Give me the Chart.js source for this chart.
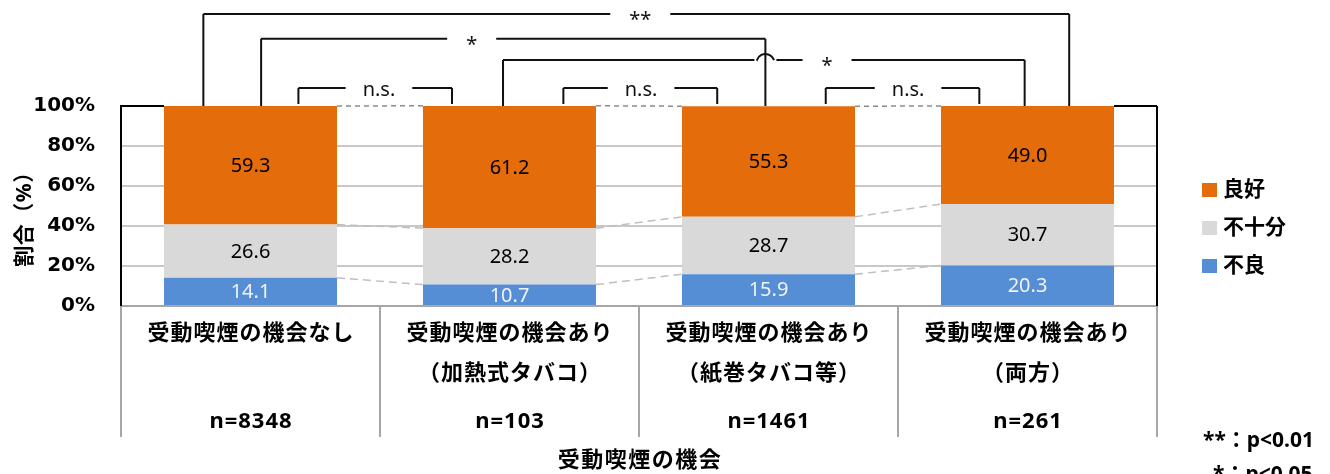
<!DOCTYPE html>
<html><head><meta charset="utf-8">
<script src="https://cdn.jsdelivr.net/npm/chart.js@4/dist/chart.umd.min.js"></script>
<style>html,body{margin:0;padding:0;background:#fff;overflow:hidden}</style>
</head><body>
<canvas id="c" width="1330" height="474"></canvas>
<script>
// ---- data ----
const categories = [
  ['受動喫煙の機会なし'],
  ['受動喫煙の機会あり', '（加熱式タバコ）'],
  ['受動喫煙の機会あり', '（紙巻タバコ等）'],
  ['受動喫煙の機会あり', '（両方）']
];
const sampleSizes = ['n=8348', 'n=103', 'n=1461', 'n=261'];
const seriesNames = ['不良', '不十分', '良好'];
const poor = [14.1, 10.7, 15.9, 20.3];
const insufficient = [26.6, 28.2, 28.7, 30.7];
const good = [59.3, 61.2, 55.3, 49.0];
const yTicks = [0, 20, 40, 60, 80, 100];
const yAxisTitle = '割合（%）';
const xAxisTitle = '受動喫煙の機会';
const footnotes = ['**：p<0.01', '*：p<0.05'];
// significance brackets: from/to/at in category-index units, level in % units of the y scale
const brackets = [
  {from: -0.182, to: 3.161, level: 146,   label: '**',   at: 1.505},
  {from: 0.041,  to: 1.988, level: 133.6, label: '*',    at: 0.854},
  {from: 0.975,  to: 2.989, level: 123,   label: '*',    at: 2.226},
  {from: 0.185,  to: 0.778, level: 109,   label: 'n.s.', at: 0.496, short: true},
  {from: 1.208,  to: 1.802, level: 109,   label: 'n.s.', at: 1.508, short: true},
  {from: 2.221,  to: 2.814, level: 109,   label: 'n.s.', at: 2.539, short: true}
];

// ---- styles ----
const COLORS = ['#558ED5', '#D9D9D9', '#E46C0A'];
const FONT = "'Noto Sans', 'Noto Sans CJK JP', sans-serif";

const overlay = {
  id: 'overlay',
  afterDatasetsDraw(chart) {
    const ctx = chart.ctx, ys = chart.scales.y, a = chart.chartArea;
    const metas = [0, 1, 2].map(i => chart.getDatasetMeta(i));
    ctx.save();
    // series connector lines
    metas.forEach((m, di) => {
      ctx.strokeStyle = di === 2 ? '#8C8C8C' : '#BFBFBF';
      ctx.lineWidth = 1.5;
      ctx.setLineDash(di === 2 ? [5, 4] : [8, 5]);
      for (let i = 0; i < m.data.length - 1; i++) {
        const p1 = m.data[i].getProps(['x', 'y', 'width'], true);
        const p2 = m.data[i + 1].getProps(['x', 'y', 'width'], true);
        ctx.beginPath();
        ctx.moveTo(p1.x + p1.width / 2, p1.y);
        ctx.lineTo(p2.x - p2.width / 2, p2.y);
        ctx.stroke();
      }
    });
    ctx.setLineDash([]);
    // plot frame: right border and top border outside bars
    const first = metas[2].data[0].getProps(['x', 'width'], true);
    const last = metas[2].data[metas[2].data.length - 1].getProps(['x', 'width'], true);
    const top = ys.getPixelForValue(100);
    ctx.strokeStyle = '#000';
    ctx.lineWidth = 2;
    ctx.beginPath();
    ctx.moveTo(a.left, top); ctx.lineTo(first.x - first.width / 2, top);
    ctx.moveTo(last.x + last.width / 2, top); ctx.lineTo(a.right, top);
    ctx.moveTo(a.right, top); ctx.lineTo(a.right, a.bottom);
    ctx.stroke();
    // data labels
    ctx.font = '20px ' + FONT;
    ctx.textAlign = 'center';
    ctx.textBaseline = 'middle';
    metas.forEach((m, di) => {
      const vals = chart.data.datasets[di].data;
      m.data.forEach((el, i) => {
        const p = el.getProps(['x', 'y', 'base'], true);
        ctx.fillStyle = di === 0 ? '#F2F2F2' : '#000';
        ctx.fillText(vals[i].toFixed(1), p.x, (p.y + p.base) / 2 + 1);
      });
    });
    ctx.restore();
  },
  afterDraw(chart) {
    const ctx = chart.ctx, xs = chart.scales.x, ys = chart.scales.y, a = chart.chartArea;
    ctx.save();
    // ---- significance brackets ----
    const legBottom = ys.getPixelForValue(100);
    ctx.strokeStyle = '#111';
    ctx.lineWidth = 2;
    ctx.font = '20px ' + FONT;
    ctx.textAlign = 'center';
    ctx.textBaseline = 'alphabetic';
    ctx.fillStyle = '#111';
    brackets.forEach((b, bi) => {
      const x1 = xs.getPixelForValue(b.from), x2 = xs.getPixelForValue(b.to);
      const yl = ys.getPixelForValue(b.level);
      const lx = xs.getPixelForValue(b.at);
      const tw = ctx.measureText(b.label).width;
      const half = tw / 2 + (b.short ? 17 : 19);
      const yb = b.short ? legBottom - 2 : legBottom;
      const hops = [];
      brackets.forEach((o, oi) => {
        if (oi === bi || o.level <= b.level) return;
        [o.from, o.to].forEach(v => {
          const hx = xs.getPixelForValue(v);
          if (hx > x1 + 2 && hx < x2 - 2) hops.push(hx);
        });
      });
      ctx.beginPath();
      ctx.moveTo(x1, yb); ctx.lineTo(x1, yl);
      const segs = [[x1, lx - half], [lx + half, x2]];
      segs.forEach(([s, e]) => {
        ctx.moveTo(s, yl);
        hops.filter(h => h > s && h < e).sort((p, q) => p - q).forEach(h => {
          ctx.lineTo(h - 11, yl);
          ctx.moveTo(h - 8.6, yl + 0.2);
          ctx.arc(h, yl + 3, 9, Math.PI * 1.1, Math.PI * 1.9);
          ctx.moveTo(h + 11, yl);
        });
        ctx.lineTo(e, yl);
      });
      ctx.moveTo(x2, yl); ctx.lineTo(x2, yb);
      ctx.stroke();
      const isStar = b.label.indexOf('*') >= 0;
      ctx.fillText(b.label, lx, yl + (isStar ? 12 : 8));
    });

    // ---- category table under the axis ----
    ctx.strokeStyle = '#A6A6A6';
    ctx.lineWidth = 2;
    ctx.beginPath();
    for (let i = 0; i <= categories.length; i++) {
      const vx = xs.getPixelForValue(i - 0.5);
      ctx.moveTo(vx, a.bottom); ctx.lineTo(vx, a.bottom + 131);
    }
    ctx.stroke();
    ctx.fillStyle = '#000';
    ctx.textAlign = 'center';
    ctx.textBaseline = 'middle';
    ctx.letterSpacing = '1px';
    categories.forEach((lines, i) => {
      const cx = xs.getPixelForValue(i) + 0.5;
      ctx.font = 'bold 22px ' + FONT;
      lines.forEach((t, li) => ctx.fillText(t, cx, a.bottom + 28 + li * 40));
      ctx.font = 'bold 22px ' + FONT;
      ctx.fillText(sampleSizes[i], cx, a.bottom + 116);
    });
    // x axis title
    ctx.letterSpacing = '1.5px';
    ctx.font = 'bold 22px ' + FONT;
    ctx.fillText(xAxisTitle, (a.left + a.right) / 2 + 1, a.bottom + 155);

    // y axis title (rotated)
    ctx.letterSpacing = '0.5px';
    ctx.save();
    ctx.translate(25, (a.top + a.bottom) / 2 + 8);
    ctx.rotate(-Math.PI / 2);
    ctx.font = 'bold 21px ' + FONT;
    ctx.fillText(yAxisTitle, 0, 0);
    ctx.restore();

    // ---- legend (reverse order: top = 良好) ----
    ctx.letterSpacing = '0px';
    ctx.textAlign = 'left';
    ctx.font = 'bold 21px ' + FONT;
    [2, 1, 0].forEach((di, k) => {
      const cy = 190 + k * 38;
      ctx.fillStyle = COLORS[di];
      ctx.fillRect(1202, cy - 7, 15, 14);
      ctx.fillStyle = '#000';
      ctx.fillText(seriesNames[di], 1223, cy);
    });

    // ---- footnotes ----
    ctx.font = 'bold 21px ' + FONT;
    ctx.fillText(footnotes[0], 1203, 441);
    ctx.fillText(footnotes[1], 1213, 475);
    ctx.restore();
  }
};

new Chart(document.getElementById('c'), {
  type: 'bar',
  data: {
    labels: categories.map(c => c.join('')),
    datasets: [
      {label: seriesNames[0], data: poor, backgroundColor: COLORS[0]},
      {label: seriesNames[1], data: insufficient, backgroundColor: COLORS[1]},
      {label: seriesNames[2], data: good, backgroundColor: COLORS[2]}
    ]
  },
  options: {
    responsive: false,
    devicePixelRatio: 1,
    animation: false,
    layout: {padding: {top: 106, right: 173, left: 0, bottom: 0}},
    datasets: {bar: {categoryPercentage: 1, barPercentage: 0.668, borderWidth: 0}},
    plugins: {legend: {display: false}, tooltip: {enabled: false}},
    scales: {
      x: {
        stacked: true,
        grid: {display: false, drawTicks: false},
        border: {display: true, color: '#A6A6A6', width: 2},
        ticks: {display: false},
        afterFit(s) { s.height = 168; }
      },
      y: {
        stacked: true,
        min: 0, max: 100,
        afterBuildTicks(s) { s.ticks = yTicks.map(v => ({value: v})); },
        grid: {
          drawTicks: false, tickLength: 0, lineWidth: 2,
          color: c => (c.tick && c.tick.value > 0 && c.tick.value < 100) ? '#C8C8C8' : 'rgba(0,0,0,0)'
        },
        border: {display: true, color: '#000', width: 2},
        ticks: {
          padding: 26, color: '#000',
          font: {family: "'DejaVu Sans', sans-serif", size: 20, weight: 'bold'},
          callback: v => v + '%'
        },
        afterFit(s) { s.width = 121; }
      }
    }
  },
  plugins: [overlay]
});
</script>
</body></html>
